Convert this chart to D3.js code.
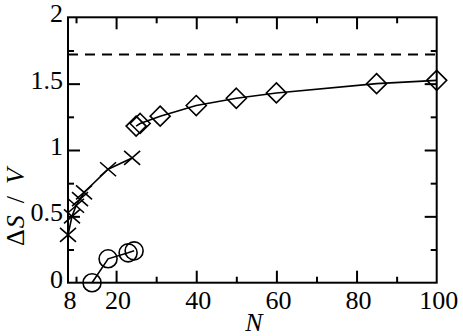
<!DOCTYPE html>
<html><head><meta charset="utf-8">
<script src="https://cdn.jsdelivr.net/npm/d3@7"></script>
<style>
html,body{margin:0;padding:0;background:#fff;}
svg text{font-family:"Liberation Serif","Times New Roman",Times,"DejaVu Serif",serif;fill:#000;}
</style></head>
<body>
<svg id="chart" width="463" height="336"></svg>
<script>
// ---- data ----
const crossN   = [8, 9, 10, 11, 12, 18, 24];
const crossVal = [0.36, 0.50, 0.58, 0.63, 0.68, 0.855, 0.94];
const circleN   = [14, 18, 23, 24.5];
const circleVal = [0.0, 0.18, 0.225, 0.24];
const diamondN   = [25, 26, 31, 40, 50, 60, 85, 100];
const diamondVal = [1.18, 1.20, 1.255, 1.335, 1.39, 1.43, 1.50, 1.525];
const dashedLevel = 1.72;
const xMajorTicks = [20, 40, 60, 80];
const xMinorTicks = [10, 30, 50, 70, 90];
const xTickLabels = [8, 20, 40, 60, 80, 100];
const yMajorTicks = [0.5, 1, 1.5];
const yMinorTicks = [0.25, 0.75, 1.25, 1.75];
const yTickLabels = ["0", "0.5", "1", "1.5", "2"];
const yTickValues = [0, 0.5, 1, 1.5, 2];

// ---- layout ----
const FONT = '"Liberation Serif","Times New Roman",Times,"DejaVu Serif",serif';
const L = 68, R = 436.7, T = 17.3, B = 282.7;
const svg = d3.select("#chart");
const x = d3.scaleLinear().domain([8, 100]).range([L, R]);
const y = d3.scaleLinear().domain([0, 2]).range([B, T]);

function axisGroup(axisFn, transform, ticks, size) {
  svg.append("g").attr("transform", transform)
    .call(axisFn.tickValues(ticks).tickSizeInner(size).tickSizeOuter(0).tickFormat(""))
    .call(g => g.select(".domain").remove())
    .call(g => g.selectAll("line").attr("stroke", "#000").attr("stroke-width", 2));
}
axisGroup(d3.axisBottom(x), `translate(0,${B})`, xMajorTicks, -12);
axisGroup(d3.axisBottom(x), `translate(0,${B})`, xMinorTicks, -6);
axisGroup(d3.axisTop(x), `translate(0,${T})`, xMajorTicks, -12);
axisGroup(d3.axisTop(x), `translate(0,${T})`, xMinorTicks, -6);
axisGroup(d3.axisLeft(y), `translate(${L},0)`, yMajorTicks, -12);
axisGroup(d3.axisLeft(y), `translate(${L},0)`, yMinorTicks, -6);
axisGroup(d3.axisRight(y), `translate(${R},0)`, yMajorTicks, -12);
axisGroup(d3.axisRight(y), `translate(${R},0)`, yMinorTicks, -6);

svg.append("rect").attr("x", L).attr("y", T).attr("width", R - L).attr("height", B - T)
  .attr("fill", "none").attr("stroke", "#000").attr("stroke-width", 2);

svg.append("g").selectAll("text").data(xTickLabels).join("text")
  .attr("font-family", FONT)
  .attr("x", d => x(d) + 2).attr("y", 309)
  .attr("text-anchor", "middle").attr("font-size", 26).text(d => d);
svg.append("g").selectAll("text").data(yTickValues).join("text")
  .attr("font-family", FONT)
  .attr("x", 63).attr("y", (d) => y(d) + 5)
  .attr("text-anchor", "end").attr("font-size", 26).text((d, i) => yTickLabels[i]);

svg.append("text").attr("x", 254).attr("y", 331).attr("text-anchor", "middle")
  .attr("font-family", FONT)
  .attr("font-size", 26).attr("font-style", "italic").text("N");
const yt = svg.append("text").attr("transform", "translate(24,246) rotate(-90)")
  .attr("font-family", FONT)
  .attr("text-anchor", "start").attr("font-size", 26);
yt.append("tspan").text("Δ");
yt.append("tspan").attr("font-style", "italic").attr("dx", 1).text("S");
yt.append("tspan").attr("dx", 12).text("/");
yt.append("tspan").attr("font-style", "italic").attr("dx", 12).text("V");

svg.append("line").attr("x1", x(8)).attr("x2", x(100))
  .attr("y1", y(dashedLevel)).attr("y2", y(dashedLevel))
  .attr("stroke", "#000").attr("stroke-width", 2).attr("stroke-dasharray", "10,7");

const line = d3.line().x(d => x(d[0])).y(d => y(d[1]));
function series(ns, vs, shape) {
  const pts = ns.map((n, i) => [n, vs[i]]);
  svg.append("path").datum(pts).attr("d", line)
    .attr("fill", "none").attr("stroke", "#000").attr("stroke-width", 1.6);
  const g = svg.append("g");
  pts.forEach(p => {
    const cx = x(p[0]), cy = y(p[1]);
    if (shape === "circle") {
      g.append("circle").attr("cx", cx).attr("cy", cy).attr("r", 9)
        .attr("fill", "none").attr("stroke", "#000").attr("stroke-width", 1.6);
    } else if (shape === "cross") {
      g.append("path").attr("transform", `translate(${cx},${cy})`)
        .attr("d", "M-8,-7L8,7M-8,7L8,-7")
        .attr("fill", "none").attr("stroke", "#000").attr("stroke-width", 1.6);
    } else {
      g.append("path").attr("transform", `translate(${cx},${cy})`)
        .attr("d", "M0,-10L10,0L0,10L-10,0Z")
        .attr("fill", "none").attr("stroke", "#000").attr("stroke-width", 1.6);
    }
  });
}
series(crossN, crossVal, "cross");
series(circleN, circleVal, "circle");
series(diamondN, diamondVal, "diamond");
</script>
</body></html>
